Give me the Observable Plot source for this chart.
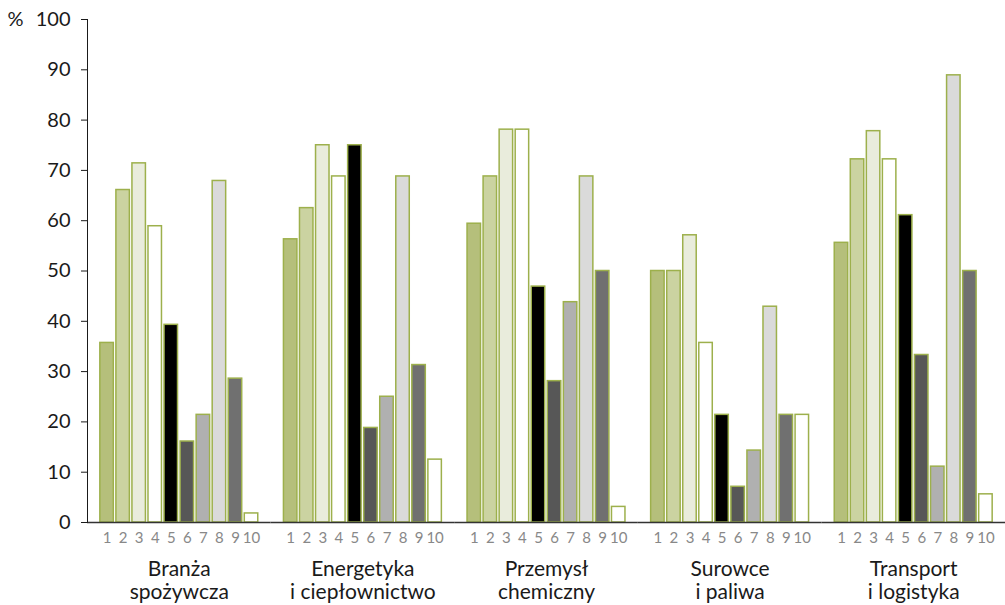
<!DOCTYPE html>
<html><head><meta charset="utf-8">
<script src="https://cdn.jsdelivr.net/npm/d3@7"></script>
<script src="https://cdn.jsdelivr.net/npm/@observablehq/plot@0.6"></script>
<style>body{margin:0;background:#fff}</style>
</head><body><div id="chart"></div>
<script>
const groups = ["Branża\nspożywcza", "Energetyka\ni ciepłownictwo", "Przemysł\nchemiczny", "Surowce\ni paliwa", "Transport\ni logistyka"];
const items = ["1","2","3","4","5","6","7","8","9","10"];
const spozywcza = [35.7, 66.1, 71.4, 58.9, 39.3, 16.1, 21.4, 67.9, 28.6, 1.8];
const energetyka = [56.3, 62.5, 75.0, 68.8, 75.0, 18.8, 25.0, 68.8, 31.3, 12.5];
const chemiczny = [59.4, 68.8, 78.1, 78.1, 46.9, 28.1, 43.8, 68.8, 50.0, 3.1];
const surowce = [50.0, 50.0, 57.1, 35.7, 21.4, 7.1, 14.3, 42.9, 21.4, 21.4];
const transport = [55.6, 72.2, 77.8, 72.2, 61.1, 33.3, 11.1, 88.9, 50.0, 5.6];
const yTicks = [0, 10, 20, 30, 40, 50, 60, 70, 80, 90, 100];
const fills = ["#b5bf7b", "#cbd3a1", "#e9ecdc", "#ffffff", "#000000", "#575757", "#b0b0b0", "#dadada", "#707070", "#ffffff"];

const series = [spozywcza, energetyka, chemiczny, surowce, transport];
const data = [];
groups.forEach((g, gi) => items.forEach((it, i) => data.push({group: g, item: it, value: series[gi][i]})));

const chart = Plot.plot({
  width: 1005, height: 605,
  marginLeft: 87, marginRight: 0, marginTop: 19, marginBottom: 83,
  style: {fontFamily: "Lato, sans-serif", background: "#fff", color: "#1a1a1a"},
  fx: {domain: groups, padding: 0, round: false, label: null},
  x: {domain: items, paddingInner: 0.16, paddingOuter: 0.8, round: false, label: null},
  y: {domain: [0, 100], label: null},
  color: {domain: items, range: fills},
  marks: [
    Plot.barY(data, {fx: "group", x: "item", y: "value", fill: "item", stroke: "#9db04c", strokeWidth: 1.5}),
    Plot.ruleY([0], {stroke: "#333", strokeWidth: 1.5}),
    Plot.frame({anchor: "left", facetAnchor: "left", stroke: "#1a1a1a"}),
    Plot.axisY({ticks: yTicks, tickSize: 6, tickPadding: 11, fontSize: 20, label: null}),
    Plot.axisX({tickSize: 0, tickPadding: 10, fontSize: 15, fill: "#888", label: null}),
    Plot.axisFx({anchor: "bottom", tickSize: 0, tickPadding: 37, fontSize: 21, lineHeight: 1.1, label: null}),
    Plot.text(["%"], {frameAnchor: "top-left", dx: -80, textAnchor: "start", lineAnchor: "middle", fontSize: 20, facetAnchor: "left"})
  ]
});
document.getElementById("chart").appendChild(chart);
</script>
</body></html>
